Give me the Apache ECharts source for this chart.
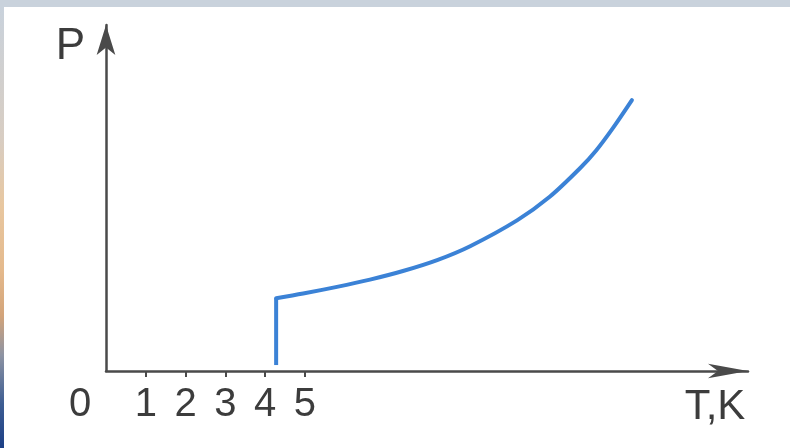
<!DOCTYPE html>
<html><head><meta charset="utf-8">
<script src="https://cdn.jsdelivr.net/npm/echarts@6/dist/echarts.min.js"></script>
<style>html,body{margin:0;padding:0;background:#fff}#c{width:790px;height:448px}</style>
</head><body><div id="c"></div>
<script>
// Temperature tick labels (K)
const tempTicks = [0, 1, 2, 3, 4, 5];
// Sudden drop of resistance at the critical temperature
const dropT = [4.28, 4.28];
const dropP = [0.18, 2.2];
// Normal-state branch above the transition
const curveT = [4.28, 4.96, 5.81, 6.64, 7.47, 8.33, 9.16, 10.34, 11.17, 11.93, 12.33, 12.76, 13.23];
const curveP = [2.2, 2.34, 2.54, 2.76, 3.02, 3.35, 3.77, 4.55, 5.27, 6.13, 6.66, 7.35, 8.18];

const FONT = 'Liberation Sans';
const INK = '#3c3c3c';
const AXIS = '#4a4a4a';
const LINE = '#3b82d6';

const zip = (a, b) => a.map((v, i) => [v, b[i]]);

const chart = echarts.init(document.getElementById('c'), null, { renderer: 'canvas' });
chart.setOption({
  backgroundColor: '#ffffff',
  animation: false,
  graphic: [
    // page frame: top band and left edge strip
    { type: 'rect', left: 0, top: 0, shape: { width: 790, height: 7 }, style: { fill: '#c9d2dc' }, silent: true },
    {
      type: 'rect', left: 0, top: 7, shape: { width: 4, height: 441 }, silent: true,
      style: {
        fill: new echarts.graphic.LinearGradient(0, 0, 0, 1, [
          { offset: 0, color: '#c9d2dc' },
          { offset: 0.3, color: '#d8cdc2' },
          { offset: 0.45, color: '#e8c7a0' },
          { offset: 0.6, color: '#e4b98c' },
          { offset: 0.7, color: '#d3a47a' },
          { offset: 0.79, color: '#8d93a3' },
          { offset: 0.9, color: '#3d5d92' },
          { offset: 1, color: '#1c3f86' }
        ])
      }
    }
  ],
  grid: { left: 106, right: 42, top: 25, bottom: 77, containLabel: false, outerBoundsMode: 'none' },
  xAxis: {
    type: 'value', min: 0, max: 16.15,
    name: 'T,K', nameLocation: 'end', nameGap: -33,
    nameTextStyle: { fontFamily: FONT, fontSize: 42, color: INK, align: 'center', verticalAlign: 'top', padding: [15, 0, 0, 0] },
    splitLine: { show: false },
    axisLine: { show: true, onZero: false, symbol: ['none', 'arrow'], symbolSize: [11, 40], lineStyle: { color: AXIS, width: 2.5 } },
    axisTick: { show: true, customValues: tempTicks.slice(1), inside: false, length: 6, lineStyle: { color: AXIS, width: 2 } },
    axisLabel: {
      customValues: tempTicks, margin: 14,
      fontFamily: FONT, fontSize: 40, color: INK,
      formatter: v => v === 0 ? '{z|0}' : String(v),
      rich: { z: { fontFamily: FONT, fontSize: 40, color: INK, padding: [0, 52, 0, 0] } }
    }
  },
  yAxis: {
    type: 'value', min: 0, max: 10.45,
    name: 'P', nameLocation: 'end', nameGap: -44,
    nameTextStyle: { fontFamily: FONT, fontSize: 44, color: INK, align: 'right', verticalAlign: 'bottom', padding: [0, 21, 0, 0] },
    splitLine: { show: false },
    axisLine: { show: true, onZero: false, symbol: ['none', 'arrow'], symbolSize: [14, 30], lineStyle: { color: AXIS, width: 2.5 } },
    axisTick: { show: false },
    axisLabel: { show: false }
  },
  series: [
    {
      type: 'line', data: zip(dropT, dropP), showSymbol: false, symbol: 'none',
      lineStyle: { color: LINE, width: 4, cap: 'butt' }
    },
    {
      type: 'line', data: zip(curveT, curveP), smooth: 0.3, showSymbol: false, symbol: 'none',
      lineStyle: { color: LINE, width: 4, cap: 'round' }
    }
  ]
});
</script>
</body></html>
